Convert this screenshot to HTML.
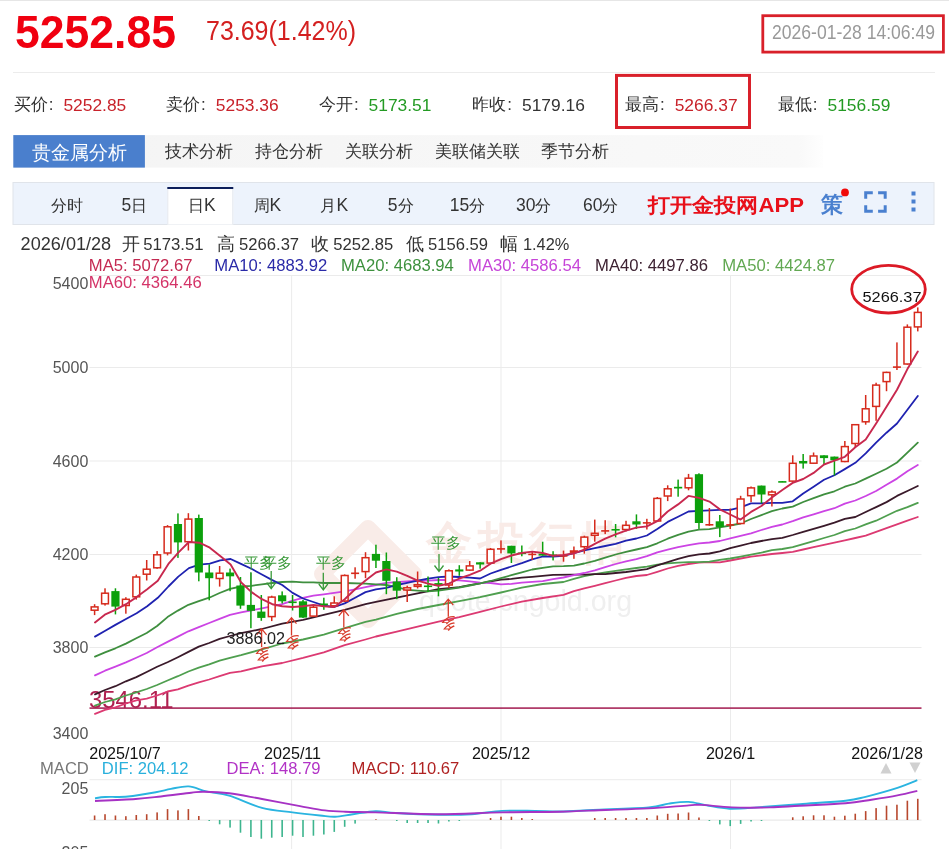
<!DOCTYPE html><html><head><meta charset="utf-8"><style>html,body{margin:0;padding:0;background:#fff;width:949px;height:849px;overflow:hidden} svg{display:block;will-change:transform} text{font-family:"Liberation Sans", sans-serif}</style></head><body>
<svg width="949" height="849" viewBox="0 0 949 849">
<rect x="0" y="0" width="949" height="1" fill="#e6e6e6"/>
<text x="15" y="47.8" font-size="45.5" font-weight="bold" fill="#f00010" textLength="161" lengthAdjust="spacingAndGlyphs">5252.85</text>
<text x="206" y="40.5" font-size="25" fill="#d42020" transform="translate(0,40.5) scale(1,1.1) translate(0,-40.5)">73.69(1.42%)</text>
<rect x="762.8" y="15.7" width="180.6" height="36.4" fill="none" stroke="#d9202a" stroke-width="2.8"/>
<text x="772" y="39.3" font-size="17.6" fill="#999" textLength="163" lengthAdjust="spacingAndGlyphs" transform="translate(0,39.3) scale(1,1.1) translate(0,-39.3)">2026-01-28 14:06:49</text>
<rect x="13" y="72" width="922" height="1" fill="#ececec"/>
<text x="13.6" y="109.7" font-size="17.2" fill="#333">买价</text>
<text x="48.7" y="109.9" font-size="17" fill="#333">:</text>
<text x="63.400000000000006" y="110.9" font-size="17.4" fill="#c8222a">5252.85</text>
<text x="166.0" y="109.7" font-size="17.2" fill="#333">卖价</text>
<text x="201.1" y="109.9" font-size="17" fill="#333">:</text>
<text x="215.8" y="110.9" font-size="17.4" fill="#c8222a">5253.36</text>
<text x="318.79999999999995" y="109.7" font-size="17.2" fill="#333">今开</text>
<text x="353.9" y="109.9" font-size="17" fill="#333">:</text>
<text x="368.59999999999997" y="110.9" font-size="17.4" fill="#239a23">5173.51</text>
<text x="472.2" y="109.7" font-size="17.2" fill="#333">昨收</text>
<text x="507.3" y="109.9" font-size="17" fill="#333">:</text>
<text x="522.0" y="110.9" font-size="17.4" fill="#333">5179.16</text>
<text x="624.9" y="109.7" font-size="17.2" fill="#333">最高</text>
<text x="660.0" y="109.9" font-size="17" fill="#333">:</text>
<text x="674.7" y="110.9" font-size="17.4" fill="#c8222a">5266.37</text>
<text x="777.6999999999999" y="109.7" font-size="17.2" fill="#333">最低</text>
<text x="812.8" y="109.9" font-size="17" fill="#333">:</text>
<text x="827.5" y="110.9" font-size="17.4" fill="#239a23">5156.59</text>
<rect x="616.5" y="75.4" width="133" height="52.1" fill="none" stroke="#d9202a" stroke-width="3"/>
<defs><linearGradient id="tg" x1="0" x2="1" y1="0" y2="0"><stop offset="0" stop-color="#f4f4f4"/><stop offset="0.97" stop-color="#f9f9f9"/><stop offset="1" stop-color="#fefefe"/></linearGradient></defs>
<rect x="13.3" y="135.1" width="810" height="32.5" fill="url(#tg)"/>
<rect x="13.3" y="135.1" width="131.6" height="32.5" fill="#4a7fcd"/>
<text x="31.6" y="158.6" font-size="19" fill="#fff">贵金属分析</text>
<text x="165" y="157.2" font-size="16.6" fill="#333">技术分析</text>
<text x="254.5" y="157.2" font-size="16.6" fill="#333">持仓分析</text>
<text x="345.2" y="157.2" font-size="16.6" fill="#333">关联分析</text>
<text x="434.8" y="157.2" font-size="16.6" fill="#333">美联储关联</text>
<text x="540.8" y="157.2" font-size="16.6" fill="#333">季节分析</text>
<rect x="13" y="182.5" width="921" height="42" fill="#edf3fc" stroke="#e0e4ea" stroke-width="1"/>
<rect x="167.3" y="187" width="66" height="37.5" fill="#fff"/>
<rect x="167.3" y="189" width="1" height="35.5" fill="#e3e7ee"/><rect x="232.3" y="189" width="1" height="35.5" fill="#e3e7ee"/>
<rect x="167.3" y="187" width="66" height="2" fill="#0c1e5a"/>
<text x="51.2" y="211.2" font-size="16" fill="#333">分时</text>
<text x="121.4" y="211.2" font-size="16" fill="#333"><tspan font-size="17.5">5</tspan>日</text>
<text x="188" y="211.2" font-size="16" fill="#333">日<tspan font-size="17.5">K</tspan></text>
<text x="253.5" y="211.2" font-size="16" fill="#333">周<tspan font-size="17.5">K</tspan></text>
<text x="320.4" y="211.2" font-size="16" fill="#333">月<tspan font-size="17.5">K</tspan></text>
<text x="387.8" y="211.2" font-size="16" fill="#333"><tspan font-size="17.5">5</tspan>分</text>
<text x="449.8" y="211.2" font-size="16" fill="#333"><tspan font-size="17.5">15</tspan>分</text>
<text x="516" y="211.2" font-size="16" fill="#333"><tspan font-size="17.5">30</tspan>分</text>
<text x="583" y="211.2" font-size="16" fill="#333"><tspan font-size="17.5">60</tspan>分</text>
<text x="648" y="212" font-size="20" font-weight="bold" fill="#e8101a" textLength="156" lengthAdjust="spacingAndGlyphs">打开金投网APP</text>
<text x="821" y="211.6" font-size="22" font-weight="bold" fill="#4a80cf">策</text>
<circle cx="845" cy="192.4" r="3.9" fill="#f00a0a"/>
<path d="M865.7 198.8 V192.8 H872.8 M878.1 192.8 H885.2 V198.8 M885.2 205.2 V211.2 H878.1 M872.8 211.2 H865.7 V205.2" fill="none" stroke="#4a80cf" stroke-width="3"/>
<rect x="911.5" y="191.5" width="4" height="4" fill="#4a80cf"/>
<rect x="911.5" y="199.5" width="4" height="4" fill="#4a80cf"/>
<rect x="911.5" y="207.5" width="4" height="4" fill="#4a80cf"/>
<text x="20.6" y="249.6" font-size="17.5" fill="#333" textLength="90.6" lengthAdjust="spacingAndGlyphs">2026/01/28</text>
<text x="121.8" y="249.6" font-size="17.5" fill="#333">开</text>
<text x="143.2" y="249.6" font-size="16.3" fill="#333" textLength="60.4" lengthAdjust="spacingAndGlyphs">5173.51</text>
<text x="216.9" y="249.6" font-size="17.5" fill="#333">高</text>
<text x="239.1" y="249.6" font-size="16.3" fill="#333" textLength="60" lengthAdjust="spacingAndGlyphs">5266.37</text>
<text x="311.3" y="249.6" font-size="17.5" fill="#333">收</text>
<text x="333.3" y="249.6" font-size="16.3" fill="#333" textLength="60" lengthAdjust="spacingAndGlyphs">5252.85</text>
<text x="405.9" y="249.6" font-size="17.5" fill="#333">低</text>
<text x="428" y="249.6" font-size="16.3" fill="#333" textLength="60" lengthAdjust="spacingAndGlyphs">5156.59</text>
<text x="499.7" y="249.6" font-size="17.5" fill="#333">幅</text>
<text x="522.9" y="249.6" font-size="16.3" fill="#333" textLength="46.4" lengthAdjust="spacingAndGlyphs">1.42%</text>
<rect x="89.5" y="275" width="832" height="1" fill="#ebebeb"/>
<rect x="89.5" y="367" width="832" height="1" fill="#ebebeb"/>
<rect x="89.5" y="460.5" width="832" height="1" fill="#ebebeb"/>
<rect x="89.5" y="554" width="832" height="1" fill="#ebebeb"/>
<rect x="89.5" y="647" width="832" height="1" fill="#ebebeb"/>
<rect x="89.5" y="741" width="832" height="1" fill="#ebebeb"/>
<rect x="291.1" y="275" width="1" height="466" fill="#ebebeb"/>
<rect x="291.1" y="779.7" width="1" height="70" fill="#ebebeb"/>
<rect x="500.5" y="275" width="1" height="466" fill="#ebebeb"/>
<rect x="500.5" y="779.7" width="1" height="70" fill="#ebebeb"/>
<rect x="730.0" y="275" width="1" height="466" fill="#ebebeb"/>
<rect x="730.0" y="779.7" width="1" height="70" fill="#ebebeb"/>
<text x="88.3" y="288.8" font-size="16" fill="#555" text-anchor="end">5400</text>
<text x="88.3" y="373" font-size="16" fill="#555" text-anchor="end">5000</text>
<text x="88.3" y="466.5" font-size="16" fill="#555" text-anchor="end">4600</text>
<text x="88.3" y="559.6" font-size="16" fill="#555" text-anchor="end">4200</text>
<text x="88.3" y="652.9" font-size="16" fill="#555" text-anchor="end">3800</text>
<text x="88.3" y="738.6" font-size="16" fill="#555" text-anchor="end">3400</text>
<text x="88.8" y="270.9" font-size="16.65" fill="#c42a52">MA5: 5072.67</text>
<text x="214.3" y="270.9" font-size="16.65" fill="#2a2aa8">MA10: 4883.92</text>
<text x="341.0" y="270.9" font-size="16.65" fill="#3d913d">MA20: 4683.94</text>
<text x="468.1" y="270.9" font-size="16.65" fill="#c645d8">MA30: 4586.54</text>
<text x="595.1" y="270.9" font-size="16.65" fill="#3d2232">MA40: 4497.86</text>
<text x="722.2" y="270.9" font-size="16.65" fill="#62a852">MA50: 4424.87</text>
<text x="88.8" y="287.8" font-size="16.65" fill="#d43468">MA60: 4364.46</text>
<g opacity="1">
<path d="M368 528 L414 574 L368 620 L322 574 Z" fill="none" stroke="#f9ece8" stroke-width="16" stroke-linejoin="round"/>
<text x="426" y="558.5" font-size="46" letter-spacing="5.5" font-weight="bold" fill="#f9ebe7">金投行情</text>
<text x="419" y="611" font-size="28.6" fill="#efefef">quote.cngold.org</text>
</g>
<rect x="89.5" y="707.3" width="832" height="1.6" fill="#a8285a"/>
<text x="89" y="707.6" font-size="23.4" fill="#b02050" textLength="84.5" lengthAdjust="spacingAndGlyphs">3546.11</text>
<path d="M95.0 713.9 L105.0 709.8 L115.4 707.4 L125.9 703.5 L136.3 700.3 L146.7 698.6 L157.1 695.5 L167.5 691.5 L177.9 689.4 L188.4 685.6 L198.8 682.3 L209.2 679.5 L219.6 676.2 L230.0 672.9 L241.0 671.3 L261.9 666.4 L282.2 663.0 L303.0 657.9 L323.8 652.3 L344.7 645.2 L365.5 639.5 L375.9 636.5 L396.8 631.6 L417.6 626.6 L438.5 621.7 L459.3 617.2 L480.1 611.9 L501.0 606.5 L521.8 601.6 L542.7 598.0 L563.5 594.8 L573.9 591.1 L584.3 588.4 L594.8 585.8 L605.2 583.1 L615.6 580.5 L626.0 577.8 L636.4 576.0 L646.9 575.0 L657.3 571.8 L667.7 568.5 L678.1 565.9 L688.5 564.0 L699.0 562.7 L709.4 562.0 L719.8 562.4 L730.2 560.5 L740.6 558.5 L751.0 556.6 L761.4 555.3 L771.9 554.0 L782.3 553.0 L792.7 551.8 L803.2 549.5 L813.6 547.2 L824.0 544.9 L834.4 542.6 L844.8 540.3 L855.3 538.0 L865.7 535.6 L876.1 531.9 L886.5 528.1 L897.0 524.4 L907.4 520.7 L917.8 517.0" fill="none" stroke="#dc3a72" stroke-width="1.8" stroke-linejoin="round" stroke-linecap="round"/>
<path d="M95.0 705.7 L105.0 702.0 L115.4 699.4 L125.9 695.5 L136.3 692.3 L146.7 689.0 L157.1 685.0 L167.5 680.5 L177.9 676.2 L188.4 671.5 L198.8 667.7 L209.2 664.4 L219.6 660.6 L230.0 657.8 L241.0 655.1 L261.9 649.4 L282.2 643.5 L303.0 639.5 L323.8 634.6 L344.7 628.2 L365.5 621.9 L375.9 619.6 L396.8 613.9 L417.6 609.0 L438.5 605.0 L459.3 601.2 L480.1 597.2 L501.0 592.5 L521.8 587.6 L542.7 584.0 L563.5 582.0 L573.9 578.9 L584.3 576.2 L594.8 574.1 L605.2 572.5 L615.6 570.9 L626.0 569.3 L636.4 568.0 L646.9 566.6 L657.3 564.7 L667.7 563.4 L678.1 562.7 L688.5 562.1 L699.0 562.1 L709.4 561.6 L719.8 559.8 L730.2 558.5 L740.6 556.6 L751.0 554.7 L761.4 552.7 L771.9 550.1 L782.3 549.0 L792.7 547.2 L803.2 544.2 L813.6 541.1 L824.0 538.0 L834.4 535.0 L844.8 531.1 L855.3 528.5 L865.7 524.4 L876.1 520.7 L886.5 515.8 L897.0 510.8 L907.4 507.1 L917.8 502.9" fill="none" stroke="#4f9f4f" stroke-width="1.8" stroke-linejoin="round" stroke-linecap="round"/>
<path d="M95.0 694.4 L105.0 690.0 L115.4 686.2 L125.9 681.3 L136.3 677.1 L146.7 672.0 L157.1 666.8 L167.5 662.2 L177.9 657.2 L188.4 651.9 L198.8 646.6 L209.2 643.0 L219.6 638.9 L230.0 636.0 L241.0 633.2 L261.9 629.0 L282.2 623.6 L303.0 619.8 L323.8 614.8 L344.7 609.9 L365.5 604.2 L375.9 601.9 L396.8 597.7 L417.6 593.4 L438.5 589.2 L459.3 587.2 L469.7 585.1 L480.1 583.4 L490.6 581.4 L501.0 579.7 L511.4 578.9 L521.8 577.7 L532.2 576.8 L553.1 574.9 L573.9 574.6 L584.3 574.6 L594.8 574.1 L605.2 574.1 L615.6 573.0 L626.0 572.0 L636.4 570.7 L646.9 569.2 L657.3 565.3 L667.7 562.1 L678.1 558.8 L688.5 556.2 L699.0 554.3 L709.4 553.5 L719.8 551.4 L730.2 548.2 L740.6 545.6 L751.0 543.0 L761.4 541.0 L771.9 539.1 L782.3 537.8 L792.7 535.0 L803.2 531.9 L813.6 528.9 L824.0 525.8 L834.4 522.7 L844.8 518.9 L855.3 517.0 L865.7 512.0 L876.1 507.1 L886.5 502.1 L897.0 495.9 L907.4 491.0 L917.8 486.0" fill="none" stroke="#3a1a2a" stroke-width="1.8" stroke-linejoin="round" stroke-linecap="round"/>
<path d="M95.0 675.4 L105.0 670.7 L115.4 666.6 L125.9 662.4 L136.3 657.7 L146.7 653.0 L157.1 647.2 L167.5 641.9 L177.9 636.6 L188.4 631.3 L198.8 627.1 L209.2 623.0 L219.6 618.9 L230.0 614.8 L241.0 612.3 L261.9 608.4 L282.2 604.2 L292.6 600.6 L303.0 597.8 L313.4 595.7 L323.8 594.3 L334.3 592.9 L344.7 591.4 L355.1 589.3 L365.5 587.2 L375.9 585.0 L386.4 582.9 L396.8 582.1 L407.2 581.4 L417.6 580.7 L428.0 580.7 L438.5 580.0 L448.9 580.0 L459.3 580.3 L469.7 581.4 L480.1 582.6 L490.6 583.0 L501.0 584.3 L511.4 583.9 L521.8 582.6 L532.2 581.9 L542.7 581.2 L553.1 579.1 L563.5 577.5 L573.9 575.2 L584.3 573.0 L594.8 570.4 L605.2 567.2 L615.6 564.0 L626.0 561.4 L636.4 559.1 L646.9 556.2 L657.3 552.3 L667.7 549.7 L678.1 547.1 L688.5 545.2 L699.0 543.3 L709.4 542.5 L719.8 541.0 L730.2 538.4 L740.6 535.9 L751.0 533.3 L761.4 530.0 L771.9 526.8 L782.3 524.5 L792.7 521.2 L803.2 517.4 L813.6 514.3 L824.0 511.2 L834.4 508.2 L844.8 503.6 L855.3 500.5 L865.7 496.0 L876.1 491.0 L886.5 484.8 L897.0 478.6 L907.4 471.2 L917.8 465.0" fill="none" stroke="#cc44e4" stroke-width="1.8" stroke-linejoin="round" stroke-linecap="round"/>
<path d="M95.0 656.6 L105.0 652.4 L115.4 648.3 L125.9 643.6 L136.3 638.3 L146.7 633.0 L157.1 626.0 L167.5 617.1 L177.9 610.6 L188.4 604.8 L198.8 601.2 L209.2 597.7 L219.6 593.0 L230.0 588.9 L241.0 586.5 L251.5 585.8 L261.9 584.4 L272.3 583.0 L282.2 582.0 L292.6 581.6 L303.0 582.3 L313.4 582.3 L323.8 583.0 L344.7 583.0 L365.5 583.7 L375.9 584.3 L386.4 585.0 L396.8 587.1 L407.2 589.9 L417.6 590.6 L428.0 591.3 L438.5 590.6 L448.9 589.2 L459.3 587.5 L469.7 585.5 L480.1 583.4 L490.6 581.0 L501.0 578.1 L511.4 575.2 L521.8 572.3 L532.2 569.5 L542.7 567.8 L553.1 566.4 L563.5 566.2 L573.9 565.6 L584.3 563.5 L594.8 560.9 L605.2 557.7 L615.6 554.5 L626.0 551.9 L636.4 549.5 L646.9 547.1 L657.3 543.3 L667.7 538.7 L678.1 534.8 L688.5 531.6 L699.0 529.6 L709.4 529.2 L719.8 527.4 L730.2 525.5 L740.6 523.5 L751.0 519.0 L761.4 515.1 L771.9 511.2 L782.3 508.5 L792.7 506.6 L803.2 502.0 L813.6 498.2 L824.0 494.4 L834.4 491.3 L844.8 486.7 L855.3 483.5 L865.7 478.6 L876.1 473.7 L886.5 468.7 L897.0 462.5 L907.4 452.6 L917.8 442.7" fill="none" stroke="#3f8f3f" stroke-width="1.8" stroke-linejoin="round" stroke-linecap="round"/>
<path d="M95.0 636.6 L104.8 631.0 L115.4 624.9 L126.0 619.0 L136.6 613.3 L147.2 606.3 L157.8 597.8 L168.4 586.5 L178.3 576.6 L188.9 568.1 L199.3 564.6 L209.8 563.6 L220.2 560.4 L230.6 559.0 L241.0 563.9 L251.5 568.8 L261.9 574.5 L272.3 580.1 L282.2 585.0 L292.6 592.9 L303.0 598.5 L313.4 602.0 L323.8 605.6 L334.3 607.0 L344.7 603.4 L355.1 597.8 L365.5 592.1 L375.9 589.3 L386.4 587.8 L396.8 585.0 L407.2 582.9 L417.6 580.7 L428.0 578.6 L438.5 577.2 L448.9 576.5 L459.3 577.0 L469.7 577.7 L480.1 578.5 L490.6 573.5 L501.0 569.8 L511.4 566.5 L521.8 563.2 L532.2 559.3 L542.7 556.5 L553.1 556.5 L563.5 555.8 L584.3 550.3 L594.8 548.1 L605.2 546.0 L615.6 543.9 L626.0 540.7 L636.4 538.5 L646.9 535.5 L657.3 529.0 L667.7 521.9 L678.1 516.7 L688.5 511.5 L699.0 510.8 L709.4 510.4 L719.8 509.9 L730.2 509.9 L740.6 507.3 L751.0 503.4 L761.4 503.4 L771.9 502.8 L782.3 502.8 L792.7 501.3 L803.2 493.6 L813.6 486.7 L824.0 479.8 L834.4 475.2 L844.8 469.1 L855.3 462.8 L865.7 453.4 L876.1 442.7 L886.5 432.7 L897.0 423.5 L907.4 409.8 L917.8 396.0" fill="none" stroke="#1f22b0" stroke-width="1.8" stroke-linejoin="round" stroke-linecap="round"/>
<rect x="93.85" y="604.2" width="1.5" height="10.9" fill="#d62a1c"/>
<rect x="91.20" y="606.9" width="6.8" height="3.3" fill="#fff" stroke="#d62a1c" stroke-width="1.5"/>
<rect x="104.27" y="588.3" width="1.5" height="17.3" fill="#d62a1c"/>
<rect x="101.62" y="593.2" width="6.8" height="10.6" fill="#fff" stroke="#d62a1c" stroke-width="1.5"/>
<rect x="114.69" y="588.3" width="1.5" height="26.1" fill="#0ca00c"/>
<rect x="111.34" y="591.1" width="8.2" height="15.5" fill="#0ca00c"/>
<rect x="125.11" y="597.2" width="1.5" height="16.5" fill="#d62a1c"/>
<rect x="122.46" y="599.3" width="6.8" height="6.2" fill="#fff" stroke="#d62a1c" stroke-width="1.5"/>
<rect x="135.53" y="574.6" width="1.5" height="25.0" fill="#d62a1c"/>
<rect x="132.88" y="577.0" width="6.8" height="19.8" fill="#fff" stroke="#d62a1c" stroke-width="1.5"/>
<rect x="145.95" y="560" width="1.5" height="20.5" fill="#d62a1c"/>
<rect x="143.30" y="569.2" width="6.8" height="5.0" fill="#fff" stroke="#d62a1c" stroke-width="1.5"/>
<rect x="156.37" y="551.1" width="1.5" height="17.7" fill="#d62a1c"/>
<rect x="153.72" y="554.8" width="6.8" height="13.0" fill="#fff" stroke="#d62a1c" stroke-width="1.5"/>
<rect x="166.79" y="525.1" width="1.5" height="30.3" fill="#d62a1c"/>
<rect x="164.14" y="526.8" width="6.8" height="26.2" fill="#fff" stroke="#d62a1c" stroke-width="1.5"/>
<rect x="177.21" y="513.4" width="1.5" height="44.5" fill="#0ca00c"/>
<rect x="173.86" y="524" width="8.2" height="18.4" fill="#0ca00c"/>
<rect x="187.63" y="513.2" width="1.5" height="37.3" fill="#d62a1c"/>
<rect x="184.98" y="519.1" width="6.8" height="22.6" fill="#fff" stroke="#d62a1c" stroke-width="1.5"/>
<rect x="198.05" y="514.6" width="1.5" height="66.7" fill="#0ca00c"/>
<rect x="194.70" y="518" width="8.2" height="54.5" fill="#0ca00c"/>
<rect x="208.47" y="564.3" width="1.5" height="36.0" fill="#0ca00c"/>
<rect x="205.12" y="572.5" width="8.2" height="5.7" fill="#0ca00c"/>
<rect x="218.89" y="566" width="1.5" height="20.6" fill="#d62a1c"/>
<rect x="216.24" y="573.2" width="6.8" height="5.3" fill="#fff" stroke="#d62a1c" stroke-width="1.5"/>
<rect x="229.31" y="568.6" width="1.5" height="22.6" fill="#0ca00c"/>
<rect x="225.96" y="572.5" width="8.2" height="3.8" fill="#0ca00c"/>
<rect x="239.73" y="577" width="1.5" height="31.8" fill="#0ca00c"/>
<rect x="236.38" y="585.5" width="8.2" height="20.1" fill="#0ca00c"/>
<rect x="250.15" y="573" width="1.5" height="55.2" fill="#0ca00c"/>
<rect x="246.80" y="604.9" width="8.2" height="5.9" fill="#0ca00c"/>
<rect x="260.57" y="595" width="1.5" height="25.8" fill="#0ca00c"/>
<rect x="257.22" y="611.6" width="8.2" height="6.3" fill="#0ca00c"/>
<rect x="270.99" y="595.7" width="1.5" height="25.4" fill="#d62a1c"/>
<rect x="268.34" y="597.1" width="6.8" height="19.5" fill="#fff" stroke="#d62a1c" stroke-width="1.5"/>
<rect x="281.41" y="591.4" width="1.5" height="12.0" fill="#0ca00c"/>
<rect x="278.06" y="595.3" width="8.2" height="6.0" fill="#0ca00c"/>
<rect x="291.83" y="595" width="1.5" height="15.5" fill="#0ca00c"/>
<rect x="288.48" y="601.5" width="8.2" height="1.6" fill="#0ca00c"/>
<rect x="302.25" y="600" width="1.5" height="18.0" fill="#0ca00c"/>
<rect x="298.90" y="601.3" width="8.2" height="16.3" fill="#0ca00c"/>
<rect x="312.67" y="605" width="1.5" height="12.0" fill="#d62a1c"/>
<rect x="310.02" y="607.2" width="6.8" height="8.9" fill="#fff" stroke="#d62a1c" stroke-width="1.5"/>
<rect x="323.09" y="597.7" width="1.5" height="12.1" fill="#0ca00c"/>
<rect x="319.74" y="603.5" width="8.2" height="1.6" fill="#0ca00c"/>
<rect x="333.51" y="596.3" width="1.5" height="10.2" fill="#d62a1c"/>
<rect x="330.86" y="603.0" width="6.8" height="2.8" fill="#fff" stroke="#d62a1c" stroke-width="1.5"/>
<rect x="343.93" y="574.4" width="1.5" height="27.6" fill="#d62a1c"/>
<rect x="341.28" y="575.5" width="6.8" height="25.5" fill="#fff" stroke="#d62a1c" stroke-width="1.5"/>
<rect x="354.35" y="567.3" width="1.5" height="11.4" fill="#d62a1c"/>
<rect x="351.10" y="572.5" width="8" height="1.6" fill="#d62a1c"/>
<rect x="364.77" y="552.2" width="1.5" height="26.0" fill="#d62a1c"/>
<rect x="362.12" y="557.7" width="6.8" height="13.9" fill="#fff" stroke="#d62a1c" stroke-width="1.5"/>
<rect x="375.19" y="544.7" width="1.5" height="23.3" fill="#0ca00c"/>
<rect x="371.84" y="553.9" width="8.2" height="6.8" fill="#0ca00c"/>
<rect x="385.61" y="552.5" width="1.5" height="41.7" fill="#0ca00c"/>
<rect x="382.26" y="561" width="8.2" height="19.8" fill="#0ca00c"/>
<rect x="396.03" y="577.2" width="1.5" height="22.0" fill="#0ca00c"/>
<rect x="392.68" y="581.5" width="8.2" height="9.2" fill="#0ca00c"/>
<rect x="406.45" y="585.7" width="1.5" height="16.3" fill="#d62a1c"/>
<rect x="403.80" y="587.8" width="6.8" height="2.2" fill="#fff" stroke="#d62a1c" stroke-width="1.5"/>
<rect x="416.87" y="571.5" width="1.5" height="17.0" fill="#d62a1c"/>
<rect x="414.22" y="584.7" width="6.8" height="1.7" fill="#fff" stroke="#d62a1c" stroke-width="1.5"/>
<rect x="427.29" y="576.5" width="1.5" height="15.5" fill="#0ca00c"/>
<rect x="423.94" y="585.5" width="8.2" height="1.6" fill="#0ca00c"/>
<rect x="437.71" y="577.9" width="1.5" height="18.4" fill="#0ca00c"/>
<rect x="434.36" y="583.1" width="8.2" height="2.6" fill="#0ca00c"/>
<rect x="448.13" y="569.4" width="1.5" height="18.4" fill="#d62a1c"/>
<rect x="445.48" y="570.8" width="6.8" height="14.2" fill="#fff" stroke="#d62a1c" stroke-width="1.5"/>
<rect x="458.55" y="565.2" width="1.5" height="10.6" fill="#0ca00c"/>
<rect x="455.20" y="569.4" width="8.2" height="2.1" fill="#0ca00c"/>
<rect x="468.97" y="561" width="1.5" height="9.8" fill="#d62a1c"/>
<rect x="466.32" y="565.9" width="6.8" height="4.2" fill="#fff" stroke="#d62a1c" stroke-width="1.5"/>
<rect x="479.39" y="562.3" width="1.5" height="6.4" fill="#0ca00c"/>
<rect x="476.04" y="562.3" width="8.2" height="2.2" fill="#0ca00c"/>
<rect x="489.81" y="548" width="1.5" height="16.0" fill="#d62a1c"/>
<rect x="487.16" y="549.3" width="6.8" height="13.8" fill="#fff" stroke="#d62a1c" stroke-width="1.5"/>
<rect x="500.23" y="540.4" width="1.5" height="13.0" fill="#d62a1c"/>
<rect x="496.98" y="548.1" width="8" height="1.6" fill="#d62a1c"/>
<rect x="510.65" y="545.8" width="1.5" height="17.2" fill="#0ca00c"/>
<rect x="507.30" y="545.8" width="8.2" height="7.6" fill="#0ca00c"/>
<rect x="521.07" y="545.5" width="1.5" height="10.8" fill="#0ca00c"/>
<rect x="517.72" y="552.5" width="8.2" height="1.6" fill="#0ca00c"/>
<rect x="531.49" y="551.2" width="1.5" height="8.8" fill="#d62a1c"/>
<rect x="528.24" y="553.6" width="8" height="1.6" fill="#d62a1c"/>
<rect x="541.91" y="541.7" width="1.5" height="13.9" fill="#0ca00c"/>
<rect x="538.56" y="553.7" width="8.2" height="1.9" fill="#0ca00c"/>
<rect x="552.33" y="551.2" width="1.5" height="9.2" fill="#0ca00c"/>
<rect x="548.98" y="554.5" width="8.2" height="1.6" fill="#0ca00c"/>
<rect x="562.75" y="550.6" width="1.5" height="11.1" fill="#d62a1c"/>
<rect x="559.50" y="555.1" width="8" height="1.6" fill="#d62a1c"/>
<rect x="573.17" y="546.5" width="1.5" height="12.3" fill="#d62a1c"/>
<rect x="570.52" y="551.0" width="6.8" height="1.2" fill="#fff" stroke="#d62a1c" stroke-width="1.5"/>
<rect x="583.59" y="535.7" width="1.5" height="18.0" fill="#d62a1c"/>
<rect x="580.94" y="537.1" width="6.8" height="9.6" fill="#fff" stroke="#d62a1c" stroke-width="1.5"/>
<rect x="594.01" y="519.6" width="1.5" height="22.1" fill="#d62a1c"/>
<rect x="591.36" y="533.3" width="6.8" height="2.0" fill="#fff" stroke="#d62a1c" stroke-width="1.5"/>
<rect x="604.43" y="520.2" width="1.5" height="13.9" fill="#d62a1c"/>
<rect x="601.18" y="530.1" width="8" height="1.6" fill="#d62a1c"/>
<rect x="614.85" y="524" width="1.5" height="13.3" fill="#0ca00c"/>
<rect x="611.50" y="529" width="8.2" height="1.6" fill="#0ca00c"/>
<rect x="625.27" y="520.8" width="1.5" height="10.6" fill="#d62a1c"/>
<rect x="622.62" y="525.3" width="6.8" height="4.2" fill="#fff" stroke="#d62a1c" stroke-width="1.5"/>
<rect x="635.69" y="514.4" width="1.5" height="14.5" fill="#0ca00c"/>
<rect x="632.34" y="521.3" width="8.2" height="3.2" fill="#0ca00c"/>
<rect x="646.11" y="518.8" width="1.5" height="10.7" fill="#d62a1c"/>
<rect x="642.86" y="522.1" width="8" height="1.6" fill="#d62a1c"/>
<rect x="656.53" y="497" width="1.5" height="25.0" fill="#d62a1c"/>
<rect x="653.88" y="498.4" width="6.8" height="22.6" fill="#fff" stroke="#d62a1c" stroke-width="1.5"/>
<rect x="666.95" y="485.3" width="1.5" height="15.8" fill="#d62a1c"/>
<rect x="664.30" y="488.8" width="6.8" height="7.2" fill="#fff" stroke="#d62a1c" stroke-width="1.5"/>
<rect x="677.37" y="479.6" width="1.5" height="17.1" fill="#0ca00c"/>
<rect x="674.02" y="486.8" width="8.2" height="1.7" fill="#0ca00c"/>
<rect x="687.79" y="473.9" width="1.5" height="16.4" fill="#d62a1c"/>
<rect x="685.14" y="478.2" width="6.8" height="9.6" fill="#fff" stroke="#d62a1c" stroke-width="1.5"/>
<rect x="698.21" y="473.3" width="1.5" height="55.6" fill="#0ca00c"/>
<rect x="694.86" y="474.2" width="8.2" height="48.8" fill="#0ca00c"/>
<rect x="708.63" y="508" width="1.5" height="17.8" fill="#d62a1c"/>
<rect x="705.38" y="524" width="8" height="1.6" fill="#d62a1c"/>
<rect x="719.05" y="515" width="1.5" height="22.1" fill="#0ca00c"/>
<rect x="715.70" y="521.3" width="8.2" height="5.7" fill="#0ca00c"/>
<rect x="729.47" y="508.5" width="1.5" height="20.5" fill="#d62a1c"/>
<rect x="726.22" y="524.1" width="8" height="1.6" fill="#d62a1c"/>
<rect x="739.89" y="495.8" width="1.5" height="28.4" fill="#d62a1c"/>
<rect x="737.24" y="499.0" width="6.8" height="24.5" fill="#fff" stroke="#d62a1c" stroke-width="1.5"/>
<rect x="750.31" y="486.5" width="1.5" height="15.6" fill="#d62a1c"/>
<rect x="747.66" y="487.9" width="6.8" height="7.8" fill="#fff" stroke="#d62a1c" stroke-width="1.5"/>
<rect x="760.73" y="485.6" width="1.5" height="17.7" fill="#0ca00c"/>
<rect x="757.38" y="485.6" width="8.2" height="8.9" fill="#0ca00c"/>
<rect x="771.15" y="490.4" width="1.5" height="16.1" fill="#d62a1c"/>
<rect x="768.50" y="492.0" width="6.8" height="2.8" fill="#fff" stroke="#d62a1c" stroke-width="1.5"/>
<rect x="781.57" y="481.1" width="1.5" height="1.0" fill="#0ca00c"/>
<rect x="778.22" y="481.1" width="8.2" height="1.6" fill="#0ca00c"/>
<rect x="791.99" y="455.3" width="1.5" height="26.5" fill="#d62a1c"/>
<rect x="789.34" y="463.3" width="6.8" height="17.8" fill="#fff" stroke="#d62a1c" stroke-width="1.5"/>
<rect x="802.41" y="454" width="1.5" height="14.6" fill="#0ca00c"/>
<rect x="799.06" y="461" width="8.2" height="2.5" fill="#0ca00c"/>
<rect x="812.83" y="452.5" width="1.5" height="11.4" fill="#d62a1c"/>
<rect x="810.18" y="456.0" width="6.8" height="7.2" fill="#fff" stroke="#d62a1c" stroke-width="1.5"/>
<rect x="823.25" y="455.3" width="1.5" height="8.8" fill="#0ca00c"/>
<rect x="819.90" y="455.3" width="8.2" height="2.8" fill="#0ca00c"/>
<rect x="833.67" y="456.6" width="1.5" height="18.9" fill="#0ca00c"/>
<rect x="830.32" y="456.6" width="8.2" height="3.7" fill="#0ca00c"/>
<rect x="844.09" y="441" width="1.5" height="21.2" fill="#d62a1c"/>
<rect x="841.44" y="446.6" width="6.8" height="14.9" fill="#fff" stroke="#d62a1c" stroke-width="1.5"/>
<rect x="854.51" y="424" width="1.5" height="23.3" fill="#d62a1c"/>
<rect x="851.86" y="424.7" width="6.8" height="18.8" fill="#fff" stroke="#d62a1c" stroke-width="1.5"/>
<rect x="864.93" y="395" width="1.5" height="29.7" fill="#d62a1c"/>
<rect x="862.28" y="408.8" width="6.8" height="13.0" fill="#fff" stroke="#d62a1c" stroke-width="1.5"/>
<rect x="875.35" y="382.7" width="1.5" height="38.1" fill="#d62a1c"/>
<rect x="872.70" y="385.1" width="6.8" height="21.3" fill="#fff" stroke="#d62a1c" stroke-width="1.5"/>
<rect x="885.77" y="371.7" width="1.5" height="19.5" fill="#d62a1c"/>
<rect x="883.12" y="372.4" width="6.8" height="9.2" fill="#fff" stroke="#d62a1c" stroke-width="1.5"/>
<rect x="896.19" y="342.4" width="1.5" height="27.6" fill="#d62a1c"/>
<rect x="892.94" y="366.3" width="8" height="1.6" fill="#d62a1c"/>
<rect x="906.61" y="324.4" width="1.5" height="40.3" fill="#d62a1c"/>
<rect x="903.96" y="327.2" width="6.8" height="36.8" fill="#fff" stroke="#d62a1c" stroke-width="1.5"/>
<rect x="917.03" y="307.4" width="1.5" height="24.0" fill="#d62a1c"/>
<rect x="914.38" y="312.4" width="6.8" height="14.5" fill="#fff" stroke="#d62a1c" stroke-width="1.5"/>
<path d="M95.0 622.5 L104.8 614.7 L115.4 609.8 L126.0 604.2 L136.6 597.1 L147.2 589.3 L157.8 580.8 L168.4 563.9 L178.3 552.6 L188.9 542.0 L199.3 542.7 L209.8 547.7 L220.2 556.1 L230.6 564.6 L241.0 582.3 L251.5 592.1 L261.9 599.2 L272.3 604.2 L282.2 606.3 L292.6 607.0 L303.0 606.3 L313.4 604.9 L323.8 606.3 L334.3 607.0 L344.7 599.2 L355.1 589.3 L365.5 580.5 L375.9 572.5 L386.4 569.4 L396.8 571.6 L407.2 575.8 L417.6 580.7 L428.0 583.6 L438.5 585.7 L448.9 583.6 L459.3 578.5 L469.7 574.8 L480.1 570.7 L490.6 563.7 L501.0 559.1 L511.4 555.5 L521.8 553.0 L532.2 551.6 L542.7 553.0 L553.1 555.8 L563.5 555.0 L573.9 553.4 L584.3 549.7 L594.8 543.9 L605.2 538.6 L615.6 534.4 L626.0 530.7 L636.4 527.6 L646.9 526.4 L657.3 521.2 L667.7 511.5 L678.1 504.4 L688.5 495.9 L699.0 497.9 L709.4 501.6 L719.8 509.3 L730.2 514.5 L740.6 519.6 L751.0 511.9 L761.4 506.0 L771.9 497.6 L782.3 490.0 L792.7 482.9 L803.2 479.0 L813.6 472.9 L824.0 464.5 L834.4 460.7 L844.8 456.8 L855.3 447.3 L865.7 439.6 L876.1 423.5 L886.5 406.7 L897.0 389.8 L907.4 369.1 L917.8 351.5" fill="none" stroke="#c8284e" stroke-width="1.9" stroke-linejoin="round" stroke-linecap="round"/>
<text x="244" y="567.5" font-size="15" fill="#3a9a3a">平多</text>
<path d="M250.9 572 V595" fill="none" stroke="#3a9a3a" stroke-width="1.3"/>
<text x="262" y="567.5" font-size="15" fill="#3a9a3a">平多</text>
<path d="M271.2 571 V588.6 M266.7 582.6 L271.2 588.6 L275.7 582.6" fill="none" stroke="#3a9a3a" stroke-width="1.3"/>
<text x="316.3" y="567.5" font-size="15" fill="#3a9a3a">平多</text>
<path d="M323.3 572.8 V590 M318.8 584 L323.3 590 L327.8 584" fill="none" stroke="#3a9a3a" stroke-width="1.3"/>
<text x="431.1" y="548" font-size="15" fill="#3a9a3a">平多</text>
<path d="M439 554 V571.5 M434.5 565.5 L439 571.5 L443.5 565.5" fill="none" stroke="#3a9a3a" stroke-width="1.3"/>
<path d="M261.6 647 V628.8 M256.6 634.8 L261.6 628.8 L266.6 634.8" fill="none" stroke="#d83a2a" stroke-width="1.3"/>
<text x="0" y="0" font-size="16" fill="#d83a2a" transform="translate(269.6,648.5) rotate(180)">多</text>
<path d="M291.5 635.4 V617.7 M286.5 623.7 L291.5 617.7 L296.5 623.7" fill="none" stroke="#d83a2a" stroke-width="1.3"/>
<text x="0" y="0" font-size="16" fill="#d83a2a" transform="translate(299.5,636.9) rotate(180)">多</text>
<path d="M343.8 627.4 V609.8 M338.8 615.8 L343.8 609.8 L348.8 615.8" fill="none" stroke="#d83a2a" stroke-width="1.3"/>
<text x="0" y="0" font-size="16" fill="#d83a2a" transform="translate(351.8,628.9) rotate(180)">多</text>
<path d="M448.3 616.7 V599.2 M443.3 605.2 L448.3 599.2 L453.3 605.2" fill="none" stroke="#d83a2a" stroke-width="1.3"/>
<text x="0" y="0" font-size="16" fill="#d83a2a" transform="translate(456.3,618.2) rotate(180)">多</text>
<text x="226.4" y="643.6" font-size="16.2" fill="#222">3886.02</text>
<ellipse cx="888.5" cy="289.2" rx="36.8" ry="23.8" fill="none" stroke="#dc1a26" stroke-width="2.8"/>
<text x="862.5" y="302" font-size="15.5" fill="#111" textLength="59" lengthAdjust="spacingAndGlyphs">5266.37</text>
<text x="89.2" y="759.3" font-size="16.1" fill="#111">2025/10/7</text>
<text x="292.6" y="759.3" font-size="16.1" fill="#111" text-anchor="middle">2025/11</text>
<text x="501" y="759.3" font-size="16.1" fill="#111" text-anchor="middle">2025/12</text>
<text x="730.5" y="759.3" font-size="16.1" fill="#111" text-anchor="middle">2026/1</text>
<text x="922.9" y="759.3" font-size="16.1" fill="#111" text-anchor="end">2026/1/28</text>
<text x="40" y="773.6" font-size="16.6" fill="#777">MACD</text>
<text x="101.8" y="773.6" font-size="16.6" fill="#29b0dc">DIF: 204.12</text>
<text x="320.6" y="773.6" font-size="16.6" fill="#b233c6" text-anchor="end">DEA: 148.79</text>
<text x="351.6" y="773.6" font-size="16.6" fill="#b02222">MACD: 110.67</text>
<path d="M880.5 773.5 L886 763 L891.5 773.5 Z" fill="#d0d0d0"/>
<path d="M909.5 762.5 L920.5 762.5 L915 773 Z" fill="#d0d0d0"/>
<rect x="89.5" y="779.2" width="832" height="1" fill="#ebebeb"/>
<rect x="89.5" y="819.6" width="832" height="1" fill="#e4e4e4"/>
<text x="88.3" y="794" font-size="16" fill="#555" text-anchor="end">205</text>
<text x="88.3" y="858" font-size="16" fill="#555" text-anchor="end">-205</text>
<rect x="93.80" y="815.5" width="1.6" height="4.5" fill="#b8482e"/>
<rect x="104.22" y="814.2" width="1.6" height="5.8" fill="#b8482e"/>
<rect x="114.64" y="815.5" width="1.6" height="4.5" fill="#b8482e"/>
<rect x="125.06" y="816.2" width="1.6" height="3.8" fill="#b8482e"/>
<rect x="135.48" y="815" width="1.6" height="5.0" fill="#b8482e"/>
<rect x="145.90" y="814.2" width="1.6" height="5.8" fill="#b8482e"/>
<rect x="156.32" y="812.4" width="1.6" height="7.6" fill="#b8482e"/>
<rect x="166.74" y="809.1" width="1.6" height="10.9" fill="#b8482e"/>
<rect x="177.16" y="810.4" width="1.6" height="9.6" fill="#b8482e"/>
<rect x="187.58" y="809.1" width="1.6" height="10.9" fill="#b8482e"/>
<rect x="198.00" y="816" width="1.6" height="4.0" fill="#b8482e"/>
<rect x="208.42" y="820" width="1.6" height="1.0" fill="#3db58e"/>
<rect x="218.84" y="820" width="1.6" height="4.3" fill="#3db58e"/>
<rect x="229.26" y="820" width="1.6" height="7.6" fill="#3db58e"/>
<rect x="239.68" y="820" width="1.6" height="12.7" fill="#3db58e"/>
<rect x="250.10" y="820" width="1.6" height="17.0" fill="#3db58e"/>
<rect x="260.52" y="820" width="1.6" height="18.7" fill="#3db58e"/>
<rect x="270.94" y="820" width="1.6" height="17.7" fill="#3db58e"/>
<rect x="281.36" y="820" width="1.6" height="17.0" fill="#3db58e"/>
<rect x="291.78" y="820" width="1.6" height="15.7" fill="#3db58e"/>
<rect x="302.20" y="820" width="1.6" height="17.0" fill="#3db58e"/>
<rect x="312.62" y="820" width="1.6" height="15.7" fill="#3db58e"/>
<rect x="323.04" y="820" width="1.6" height="14.5" fill="#3db58e"/>
<rect x="333.46" y="820" width="1.6" height="11.9" fill="#3db58e"/>
<rect x="343.88" y="820" width="1.6" height="6.8" fill="#3db58e"/>
<rect x="354.30" y="820" width="1.6" height="3.6" fill="#3db58e"/>
<rect x="375.14" y="819.3" width="1.6" height="0.7" fill="#b8482e"/>
<rect x="395.98" y="820" width="1.6" height="1.0" fill="#3db58e"/>
<rect x="406.40" y="820" width="1.6" height="3.0" fill="#3db58e"/>
<rect x="416.82" y="820" width="1.6" height="3.0" fill="#3db58e"/>
<rect x="427.24" y="820" width="1.6" height="3.0" fill="#3db58e"/>
<rect x="437.66" y="820" width="1.6" height="3.5" fill="#3db58e"/>
<rect x="448.08" y="820" width="1.6" height="1.5" fill="#3db58e"/>
<rect x="458.50" y="820" width="1.6" height="1.0" fill="#3db58e"/>
<rect x="489.76" y="818" width="1.6" height="2.0" fill="#b8482e"/>
<rect x="500.18" y="816.7" width="1.6" height="3.3" fill="#b8482e"/>
<rect x="510.60" y="816.7" width="1.6" height="3.3" fill="#b8482e"/>
<rect x="521.02" y="818" width="1.6" height="2.0" fill="#b8482e"/>
<rect x="531.44" y="819" width="1.6" height="1.0" fill="#b8482e"/>
<rect x="593.96" y="818" width="1.6" height="2.0" fill="#b8482e"/>
<rect x="604.38" y="818" width="1.6" height="2.0" fill="#b8482e"/>
<rect x="614.80" y="818" width="1.6" height="2.0" fill="#b8482e"/>
<rect x="625.22" y="818" width="1.6" height="2.0" fill="#b8482e"/>
<rect x="635.64" y="818" width="1.6" height="2.0" fill="#b8482e"/>
<rect x="646.06" y="818" width="1.6" height="2.0" fill="#b8482e"/>
<rect x="656.48" y="815.5" width="1.6" height="4.5" fill="#b8482e"/>
<rect x="666.90" y="813.8" width="1.6" height="6.2" fill="#b8482e"/>
<rect x="677.32" y="813.5" width="1.6" height="6.5" fill="#b8482e"/>
<rect x="687.74" y="812.5" width="1.6" height="7.5" fill="#b8482e"/>
<rect x="698.16" y="817.5" width="1.6" height="2.5" fill="#b8482e"/>
<rect x="708.58" y="820" width="1.6" height="1.0" fill="#3db58e"/>
<rect x="719.00" y="820" width="1.6" height="4.4" fill="#3db58e"/>
<rect x="729.42" y="820" width="1.6" height="6.1" fill="#3db58e"/>
<rect x="739.84" y="820" width="1.6" height="3.9" fill="#3db58e"/>
<rect x="750.26" y="820" width="1.6" height="1.5" fill="#3db58e"/>
<rect x="760.68" y="820" width="1.6" height="1.0" fill="#3db58e"/>
<rect x="791.94" y="817.3" width="1.6" height="2.7" fill="#b8482e"/>
<rect x="802.36" y="816.3" width="1.6" height="3.7" fill="#b8482e"/>
<rect x="812.78" y="815.3" width="1.6" height="4.7" fill="#b8482e"/>
<rect x="823.20" y="815.3" width="1.6" height="4.7" fill="#b8482e"/>
<rect x="833.62" y="816.7" width="1.6" height="3.3" fill="#b8482e"/>
<rect x="844.04" y="815.7" width="1.6" height="4.3" fill="#b8482e"/>
<rect x="854.46" y="813.7" width="1.6" height="6.3" fill="#b8482e"/>
<rect x="864.88" y="811.1" width="1.6" height="8.9" fill="#b8482e"/>
<rect x="875.30" y="808.1" width="1.6" height="11.9" fill="#b8482e"/>
<rect x="885.72" y="805.7" width="1.6" height="14.3" fill="#b8482e"/>
<rect x="896.14" y="804.7" width="1.6" height="15.3" fill="#b8482e"/>
<rect x="906.56" y="800.7" width="1.6" height="19.3" fill="#b8482e"/>
<rect x="916.98" y="798.8" width="1.6" height="21.2" fill="#b8482e"/>
<path d="M95.0 798.3 C96.7 798.1 99.7 797.3 105.2 797.0 C110.7 796.7 119.6 797.3 128.0 796.5 C136.4 795.7 148.6 793.5 155.8 792.2 C163.0 790.9 165.5 789.9 171.0 788.9 C176.5 787.9 182.8 786.0 188.7 786.4 C194.6 786.8 199.7 789.8 206.4 791.4 C213.2 793.0 219.9 793.0 229.2 795.7 C238.5 798.5 251.5 805.1 262.0 807.9 C272.5 810.7 282.7 811.1 292.4 812.4 C302.1 813.7 312.9 814.8 320.0 815.5 C327.1 816.2 329.7 816.9 335.2 816.7 C340.7 816.5 346.2 815.1 352.9 814.2 C359.6 813.3 368.4 811.4 375.6 811.2 C382.8 811.0 385.3 812.4 395.9 813.0 C406.4 813.6 426.3 814.5 438.9 814.7 C451.5 814.9 461.2 814.8 471.7 814.2 C482.2 813.6 491.4 811.5 502.0 810.9 C512.5 810.3 525.3 810.8 535.0 810.9 C544.7 811.0 550.3 811.6 560.0 811.5 C569.7 811.4 578.2 810.7 593.0 810.0 C607.8 809.3 636.0 808.5 648.6 807.4 C661.2 806.3 662.1 804.5 668.8 803.6 C675.4 802.7 682.2 801.6 688.5 801.9 C694.8 802.2 699.9 804.3 706.7 805.4 C713.5 806.5 721.1 808.4 729.5 808.7 C737.9 809.0 745.6 808.2 757.3 807.4 C769.0 806.6 785.1 805.2 799.8 804.1 C814.5 803.0 834.6 801.9 845.6 800.7 C856.6 799.5 857.0 798.9 865.6 796.8 C874.2 794.6 888.8 790.6 897.4 787.8 C906.0 785.0 914.0 781.5 917.3 780.2" fill="none" stroke="#2ab4e0" stroke-width="1.9" stroke-linejoin="round"/>
<path d="M95.0 801.0 C101.8 800.7 124.6 799.8 135.6 799.0 C146.6 798.2 151.6 797.5 160.9 796.5 C170.2 795.5 184.0 793.5 191.2 792.7 C198.4 791.9 197.6 791.6 203.9 791.7 C210.2 791.8 219.5 792.0 229.2 793.2 C238.9 794.4 250.2 796.9 262.0 799.0 C273.8 801.1 289.5 804.2 300.0 806.1 C310.5 808.0 317.4 809.5 325.0 810.4 C332.6 811.3 336.9 811.4 345.3 811.7 C353.7 812.0 360.0 812.0 375.6 812.4 C391.2 812.8 417.8 814.2 438.9 814.2 C460.0 814.2 481.8 812.8 502.0 812.4 C522.2 812.0 542.7 812.1 560.0 811.7 C577.3 811.3 590.8 810.5 605.6 810.0 C620.4 809.5 634.7 809.2 648.6 808.4 C662.5 807.6 680.1 806.0 689.0 805.4 C697.9 804.8 694.5 804.6 701.7 804.9 C708.9 805.2 720.6 807.0 732.0 807.4 C743.4 807.8 758.7 807.7 770.0 807.4 C781.3 807.1 787.2 806.4 799.8 805.7 C812.4 805.0 833.6 804.3 845.6 803.3 C857.6 802.3 862.9 801.0 871.5 799.7 C880.1 798.4 889.8 796.9 897.4 795.4 C905.0 793.9 914.0 791.6 917.3 790.8" fill="none" stroke="#a632c4" stroke-width="1.9" stroke-linejoin="round"/>
</svg></body></html>
